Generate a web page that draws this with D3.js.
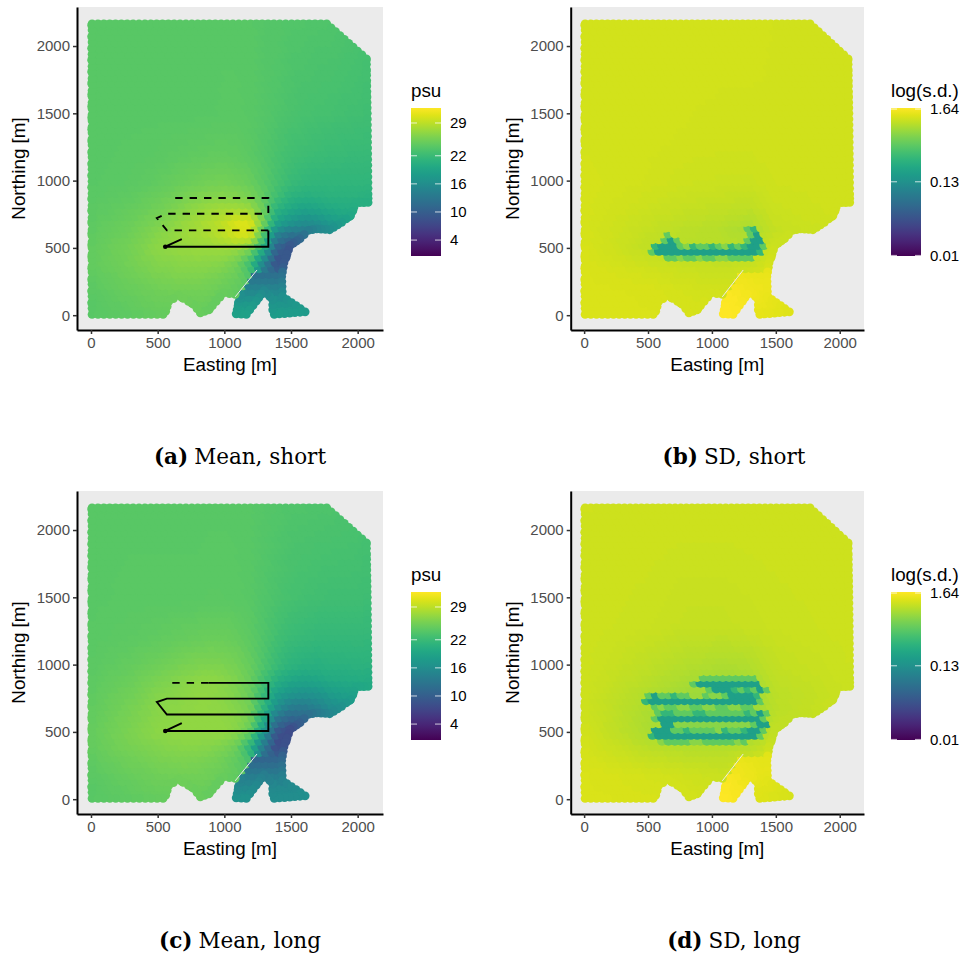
<!DOCTYPE html>
<html lang="en">
<head>
<meta charset="UTF-8">
<title>Salinity fields</title>
<script src="https://d3js.org/d3.v7.min.js"></script>
<style>
  body { margin: 0; background: #fff; }
  svg text { font-family: "Liberation Sans", sans-serif; }
  svg text.caption { font-family: "DejaVu Serif", serif; }
</style>
</head>
<body>
<script>
// tick labels
const xTicks = [0, 500, 1000, 1500, 2000]
const yTicks = [0, 500, 1000, 1500, 2000]
const psuTicks = [4, 10, 16, 22, 29]
const sdTicks = [0.01, 0.13, 1.64]

// mean salinity (psu), one row per northing, south first
const meanEastings = [0, 300, 500, 700, 800, 900, 1000, 1100, 1200, 1300, 1400, 1500, 1600, 1700, 1800, 2000, 2100]
const meanNorthings = [0, 100, 200, 300, 400, 500, 600, 700, 800, 900, 1000, 1200, 1500, 2200]
const meanShort = [
  [24, 24.4, 24.7, 24.8, 24.8, 24.5, 24.3, 24.2, 24, 20, 17, 17, 17, 17, 17, 17, 17],
  [24, 24.6, 25, 25.1, 25.1, 24.9, 24.5, 24.3, 24, 18, 15, 15, 15, 15, 15, 15, 15],
  [24.2, 24.9, 25.3, 25.5, 25.5, 25.3, 25, 24.6, 24.2, 16, 13, 13, 13, 13, 13, 13, 13],
  [24.4, 25.2, 25.8, 26.1, 26.1, 25.9, 25.5, 25, 23.5, 13, 11, 11.5, 12, 12, 12, 12, 12],
  [24.6, 25.5, 26.3, 26.6, 26.7, 26.6, 26.4, 25.5, 22.5, 15, 8.2, 10, 12, 12, 12, 12, 12],
  [24.6, 25.6, 26.7, 27.2, 27.3, 27.4, 27.4, 27.2, 25.8, 20, 10, 8.5, 10, 12, 14, 15, 15],
  [24.4, 25.3, 26.4, 27.4, 27.8, 28.2, 28.9, 30, 30, 23.5, 14, 12, 12.5, 14.5, 16, 18, 19],
  [24.3, 25, 25.9, 27.2, 27.8, 28.4, 29.2, 30.5, 30.5, 25.5, 19, 17, 16, 16.3, 17.5, 19.5, 20],
  [24.2, 24.7, 25.3, 26.4, 27, 27.5, 27.8, 27.8, 27.3, 25, 21, 19.7, 18.8, 19.2, 19.8, 20.2, 20.2],
  [24.1, 24.4, 24.9, 25.6, 26, 26.3, 26.4, 26.2, 25.7, 24.4, 22.6, 21, 20.6, 20.7, 20.9, 20.8, 20.8],
  [24, 24.2, 24.5, 25, 25.2, 25.4, 25.5, 25.3, 24.9, 24, 23, 22, 21.5, 21.3, 21.3, 21.3, 21.3],
  [24, 24.1, 24.2, 24.4, 24.5, 24.6, 24.6, 24.5, 24.2, 23.7, 23.1, 22.6, 22.4, 22.2, 22, 21.9, 21.9],
  [24, 24, 24, 24, 24, 24, 24.1, 24.1, 24, 23.8, 23.5, 23.2, 23, 22.9, 22.8, 22.6, 22.5],
  [24, 24, 24, 24, 24, 24, 24, 24, 24, 23.8, 23.8, 23.6, 23.6, 23.5, 23.5, 23.2, 23]
]
const meanLong = [
  [24, 24.4, 24.7, 24.8, 24.8, 24.5, 24.2, 24, 23.8, 19, 16, 16, 16, 16, 16, 16, 16],
  [24, 24.6, 25, 25.1, 25.1, 24.9, 24.5, 24.2, 23.8, 17, 14, 14, 14, 14, 14, 14, 14],
  [24.2, 24.9, 25.3, 25.5, 25.5, 25.3, 25, 24.5, 24, 15, 12, 12, 12, 12, 12, 12, 12],
  [24.4, 25.3, 25.7, 26, 25.9, 25.7, 25.2, 24.5, 23, 11.5, 10.5, 11, 11, 11, 11, 11, 11],
  [24.7, 25.7, 26.2, 26.5, 26.5, 26.3, 26, 25, 21, 13.5, 7.5, 9, 11, 11, 11, 11, 11],
  [24.7, 25.9, 26.7, 27, 27, 27, 27, 26.5, 24.5, 17, 8.5, 7.5, 9.5, 11, 13, 15, 15],
  [24.6, 25.8, 26.6, 26.9, 27, 27, 26.9, 26.6, 25.5, 20, 12.5, 10.3, 11, 13, 15, 17, 18],
  [24.5, 25.6, 26.5, 26.8, 26.9, 26.9, 26.7, 26.3, 25.5, 21.5, 16.5, 14, 13.6, 14.5, 16, 18, 18.5],
  [24.4, 25.3, 26.2, 26.7, 26.9, 26.9, 26.6, 26, 25, 22, 18.5, 17.3, 16.8, 17, 18, 19, 19.5],
  [24.3, 25, 25.8, 26.4, 26.7, 26.8, 26.6, 26, 25, 22.8, 20.6, 19.5, 19, 19.3, 19.8, 20, 20.2],
  [24.2, 24.7, 25.2, 25.8, 26, 26.1, 26, 25.6, 24.8, 23.4, 22, 21, 20.6, 20.5, 20.7, 20.8, 20.9],
  [24.1, 24.3, 24.5, 24.8, 24.9, 25, 25, 24.8, 24.3, 23.5, 22.6, 22, 21.8, 21.6, 21.6, 21.6, 21.6],
  [24, 24.1, 24.1, 24.1, 24.1, 24.2, 24.2, 24.1, 24, 23.6, 23.2, 22.9, 22.7, 22.6, 22.5, 22.5, 22.4],
  [24, 24, 24, 24, 24, 24, 24, 24, 24, 23.8, 23.7, 23.5, 23.5, 23.4, 23.4, 23.2, 23]
]

// sd background
const sdEastings = [0, 500, 800, 1100, 1300, 1500, 2100]
const sdNorthings = [0, 200, 350, 500, 650, 800, 1000, 1300, 2200]
const sdShort = [
  [1.27, 1.26, 1.24, 1.22, 1.22, 1.26, 1.26],
  [1.27, 1.25, 1.2, 1.17, 1.2, 1.26, 1.26],
  [1.26, 1.18, 1.12, 1.1, 1.13, 1.25, 1.25],
  [1.24, 1.05, 0.98, 0.98, 0.95, 1.15, 1.2],
  [1.22, 1.08, 1, 0.96, 0.88, 1.08, 1.18],
  [1.22, 1.13, 1.08, 1.05, 1.02, 1.13, 1.18],
  [1.22, 1.18, 1.14, 1.13, 1.13, 1.16, 1.18],
  [1.2, 1.19, 1.18, 1.17, 1.17, 1.18, 1.18],
  [1.2, 1.2, 1.2, 1.2, 1.2, 1.18, 1.18]
]
const sdLong = [
  [1.27, 1.24, 1.2, 1.17, 1.17, 1.24, 1.24],
  [1.26, 1.2, 1.15, 1.1, 1.15, 1.24, 1.24],
  [1.22, 1.05, 1, 1, 1.05, 1.2, 1.24],
  [1.18, 0.9, 0.82, 0.82, 0.82, 1.05, 1.18],
  [1.15, 0.9, 0.8, 0.76, 0.76, 1, 1.15],
  [1.15, 0.95, 0.82, 0.76, 0.76, 1, 1.13],
  [1.15, 1.03, 0.95, 0.9, 0.93, 1.06, 1.14],
  [1.15, 1.12, 1.08, 1.08, 1.1, 1.12, 1.15],
  [1.16, 1.16, 1.16, 1.16, 1.16, 1.16, 1.16]
]

// the river arm east of the thin gap has its own readings
const armEastings = [1050, 1200, 1350, 1500, 1650]
const armNorthings = [0, 100, 200, 300, 400]
const armMeanShort = [[19, 18.5, 18, 18, 18], [17.5, 17.5, 17, 17, 17], [15, 15, 15, 15, 15], [13, 12.5, 12.5, 12, 12], [11, 10, 10, 10, 10]]
const armMeanLong = [[17, 16.5, 16, 16, 16.5], [15.5, 15.5, 15.5, 15.5, 16], [13.5, 13.5, 13.5, 13.5, 14], [11, 11, 11, 11, 11], [9.5, 9, 9, 9, 9]]
const armSdShort = [[1.7, 1.65, 1.4, 1.35, 1.3], [1.7, 1.65, 1.45, 1.38, 1.3], [1.65, 1.6, 1.5, 1.45, 1.4], [1.55, 1.5, 1.45, 1.4, 1.4], [1.4, 1.35, 1.3, 1.3, 1.3]]
const armSdLong = [[1.7, 1.6, 1.3, 1.25, 1.2], [1.7, 1.6, 1.35, 1.3, 1.25], [1.6, 1.55, 1.42, 1.38, 1.35], [1.5, 1.45, 1.4, 1.35, 1.35], [1.35, 1.3, 1.25, 1.25, 1.25]]
const armEasting = [1040, 1040, 1081, 1245, 1700, 1700]
const armNorthing = [-60, 110, 136, 336, 336, -60]
const gapEasting = [1081, 1245]
const gapNorthing = [136, 336]

// low sd cells along the vehicle track, one string per lattice row
// a, b, c, d are the sd levels below, a dot keeps the background
const sdLevels = { a: 0.48, b: 0.3, c: 0.18, d: 0.68 }
const shortTrackRows = [10, 11, 12, 13, 14, 15]
const shortTrackCells = [
  "....aadaadaaddaaaa..",
  ".accccccccccccccccb.",
  "..bcccadbaabadbabcca",
  "...aca..........acc.",
  "....a............ac.",
  "................ab.."
]
const longTrackRows = [10, 11, 12, 13, 14, 15, 16, 17, 18, 19, 20, 21]
const longTrackCells = [
  "...daaaaddaaaaada...",
  ".bcccccccccccccccca.",
  "..cccaabaaaadbaabcca",
  "...ccddddddddddddacc",
  "..acccccccccccccccca",
  "..abbaaabbaaaaaabaca",
  "..adaaddaaddaaddaa..",
  "bccccccccccccccccca.",
  ".acaabaa..addaccccb.",
  "..........acccbabaca",
  "........acccccccccc.",
  ".........aaaaaaaaa.."
]

// footprint of the survey grid, centre line of the edge cells
const outlineEasting = [8, 8, 1768, 2065, 2072, 2078, 2078, 1985, 1947, 1880, 1790, 1693, 1630, 1568, 1493, 1447, 1430, 1435, 1606, 1375, 1363, 1363, 1298, 1240, 1165, 1089, 1110, 1125, 995, 883, 820, 770, 654, 582, 560, 540]
const outlineNorthing = [6, 2164, 2164, 1905, 1500, 900, 838, 835, 740, 690, 635, 642, 630, 568, 518, 390, 287, 139, 25, 6, 40, 114, 183, 105, 6, 10, 100, 150, 165, 40, 18, 80, 147, 100, 30, 6]

// vehicle track
const shortSolidE = [681, 557, 1330, 1330]
const shortSolidN = [566, 509, 509, 630]
const shortDashE = [1330, 569, 494, 569, 1330, 1330, 619]
const shortDashN = [630, 630, 722, 754, 754, 871, 871]
const longSolidE = [681, 557, 1330, 1330, 569, 494, 569, 1330, 1330, 881]
const longSolidN = [566, 507, 507, 629, 629, 722, 747, 747, 864, 864]
const longDashE = [881, 581]
const longDashN = [864, 864]

const panels = [
  { id: "a", name: "Mean, short", top: 7, left: 77, right: 383, legendX: 411, capX: 240, title: "psu", grid: meanShort, arm: armMeanShort, log: false, solid: [shortSolidE, shortSolidN], dash: [shortDashE, shortDashN] },
  { id: "b", name: "SD, short", top: 7, left: 570.7, right: 864, legendX: 891, capX: 734, title: "log(s.d.)", grid: sdShort, arm: armSdShort, log: true, rows: shortTrackRows, cells: shortTrackCells },
  { id: "c", name: "Mean, long", top: 491, left: 77, right: 383, legendX: 411, capX: 240, title: "psu", grid: meanLong, arm: armMeanLong, log: false, solid: [longSolidE, longSolidN], dash: [longDashE, longDashN] },
  { id: "d", name: "SD, long", top: 491, left: 570.7, right: 864, legendX: 891, capX: 734, title: "log(s.d.)", grid: sdLong, arm: armSdLong, log: true, rows: longTrackRows, cells: longTrackCells }
]

const outline = outlineEasting.map((e, i) => [e, outlineNorthing[i]])
const armShape = armEasting.map((e, i) => [e, armNorthing[i]])

// survey lattice, 50 m apart with every other row shifted
let lattice = []
for (let j = 0; j <= 50; j++) {
  for (let i = 0; i <= 42; i++) {
    let e = 10 + i * 50 + (j % 2 ? 25 : 0), n = 5 + j * 43
    if (d3.polygonContains(outline, [e, n])) lattice.push({ i, j, e, n, r: 5 })
  }
}
// cells walking the edge of the footprint
outline.forEach((a, k) => {
  const b = outline[(k + 1) % outline.length]
  const steps = Math.ceil(Math.hypot(b[0] - a[0], b[1] - a[1]) / 45)
  d3.range(steps).forEach(s => {
    lattice.push({ i: -1, j: -1, e: a[0] + (b[0] - a[0]) * s / steps, n: a[1] + (b[1] - a[1]) * s / steps, r: 4.4 })
  })
})

function readGrid(es, ns, m, e, n) {
  let i = Math.max(0, Math.min(es.length - 2, d3.bisectRight(es, e) - 1))
  let j = Math.max(0, Math.min(ns.length - 2, d3.bisectRight(ns, n) - 1))
  let te = Math.max(0, Math.min(1, (e - es[i]) / (es[i + 1] - es[i])))
  let tn = Math.max(0, Math.min(1, (n - ns[j]) / (ns[j + 1] - ns[j])))
  let low = d3.interpolateNumber(m[j][i], m[j][i + 1])(te)
  let high = d3.interpolateNumber(m[j + 1][i], m[j + 1][i + 1])(te)
  return d3.interpolateNumber(low, high)(tn)
}

const svg = d3.select("body").append("svg").attr("width", 965).attr("height", 958)
const defs = svg.append("defs")
const grad = defs.append("linearGradient").attr("id", "viridisBar")
  .attr("x1", 0).attr("x2", 0).attr("y1", 1).attr("y2", 0)
d3.range(0, 1.01, 0.05).forEach(t => {
  grad.append("stop").attr("offset", t).attr("stop-color", d3.interpolateViridis(t))
})

panels.forEach(p => {
  const bottom = p.top + 323
  const x = d3.scaleLinear().domain([-105, 2190]).range([p.left, p.right])
  const y = d3.scaleLinear().domain([-110, 2290]).range([bottom, p.top])
  const colour = p.log
    ? d3.scaleSequentialLog(d3.interpolateViridis).domain([0.0098, 1.7])
    : d3.scaleSequential(d3.interpolateViridis).domain([0.6, 32.2])

  const g = svg.append("g")
  g.append("rect").attr("x", p.left).attr("y", p.top)
    .attr("width", p.right - p.left).attr("height", bottom - p.top).attr("fill", "#ebebeb")

  const value = d => {
    if (p.rows) {
      const r = p.rows.indexOf(d.j)
      if (r >= 0) {
        const c = p.cells[r][d.i - 9]
        if (sdLevels[c]) return sdLevels[c]
      }
    }
    if (d.n < 336 && d3.polygonContains(armShape, [d.e, d.n])) return readGrid(armEastings, armNorthings, p.arm, d.e, d.n)
    return p.log ? readGrid(sdEastings, sdNorthings, p.grid, d.e, d.n) : readGrid(meanEastings, meanNorthings, p.grid, d.e, d.n)
  }

  g.selectAll("circle.cell").data(lattice).enter().append("circle")
    .attr("class", "cell")
    .attr("cx", d => x(d.e))
    .attr("cy", d => y(d.n))
    .attr("r", d => d.r)
    .attr("fill", d => colour(value(d)))

  const line = d3.line().x(d => x(d[0])).y(d => y(d[1]))
  g.append("path").attr("d", line(gapEasting.map((e, i) => [e, gapNorthing[i]])))
    .attr("stroke", "#ebebeb").attr("stroke-width", 1).attr("fill", "none")

  if (p.solid) {
    const pts = a => a[0].map((e, i) => [e, a[1][i]])
    g.append("path").attr("d", line(pts(p.solid))).attr("fill", "none")
      .attr("stroke", "#000").attr("stroke-width", 1.9)
    g.append("path").attr("d", line(pts(p.dash))).attr("fill", "none")
      .attr("stroke", "#000").attr("stroke-width", 1.9).attr("stroke-dasharray", "7.4,7")
    g.append("circle").attr("cx", x(p.solid[0][1])).attr("cy", y(p.solid[1][1])).attr("r", 2.3)
  }

  // axes
  const xAxis = g.append("g").attr("transform", `translate(0,${bottom})`)
    .call(d3.axisBottom(x).tickValues(xTicks).tickSize(4).tickSizeOuter(0).tickPadding(3).tickFormat(d3.format("d")))
  const yAxis = g.append("g").attr("transform", `translate(${p.left},0)`)
    .call(d3.axisLeft(y).tickValues(yTicks).tickSize(4).tickSizeOuter(0).tickPadding(3).tickFormat(d3.format("d")))
  ;[xAxis, yAxis].forEach(a => {
    a.select(".domain").attr("stroke", "#000").attr("stroke-width", 2)
    a.selectAll(".tick line").attr("stroke", "#333").attr("stroke-width", 1.5)
    a.selectAll(".tick text").attr("fill", "#4d4d4d").style("font-size", "15px").style("font-family", "Liberation Sans")
  })

  g.append("text").attr("x", (p.left + p.right) / 2).attr("y", bottom + 41)
    .attr("text-anchor", "middle").attr("font-size", 18.8).text("Easting [m]")
  g.append("text").attr("transform", `translate(${p.left - 52},${(p.top + bottom) / 2}) rotate(-90)`)
    .attr("text-anchor", "middle").attr("font-size", 18.8).text("Northing [m]")

  // legend
  const barTop = p.top + 101, barBottom = p.top + 249
  const lx = p.legendX
  const legendY = p.log
    ? d3.scaleLog().domain([0.0098, 1.7]).range([barBottom, barTop])
    : d3.scaleLinear().domain([0.6, 32.2]).range([barBottom, barTop])
  const leg = svg.append("g")
  leg.append("text").attr("x", lx).attr("y", barTop - 11).attr("font-size", 18.8).text(p.title)
  leg.append("rect").attr("x", lx).attr("y", barTop).attr("width", 30).attr("height", barBottom - barTop)
    .attr("fill", "url(#viridisBar)")
  const ticks = p.log ? sdTicks : psuTicks
  ticks.forEach(t => {
    leg.append("line").attr("x1", lx).attr("x2", lx + 6).attr("y1", legendY(t)).attr("y2", legendY(t))
      .attr("stroke", "#fff").attr("stroke-opacity", 0.75)
    leg.append("line").attr("x1", lx + 24).attr("x2", lx + 30).attr("y1", legendY(t)).attr("y2", legendY(t))
      .attr("stroke", "#fff").attr("stroke-opacity", 0.75)
  })
  const la = leg.append("g").attr("transform", `translate(${lx + 30},0)`)
    .call(d3.axisRight(legendY).tickValues(ticks).tickSize(0).tickPadding(9).tickFormat(d => String(d)))
  la.select(".domain").remove()
  la.selectAll("text").attr("fill", "#000").style("font-size", "15px").style("font-family", "Liberation Sans")

  // caption
  const cap = svg.append("text").attr("class", "caption")
    .attr("x", p.capX).attr("y", p.top + 457)
    .attr("text-anchor", "middle").attr("font-size", 21.5)
  cap.append("tspan").attr("font-weight", "bold").text(`(${p.id})`)
  cap.append("tspan").attr("dx", 6).text(p.name)
})
</script>
</body>
</html>
